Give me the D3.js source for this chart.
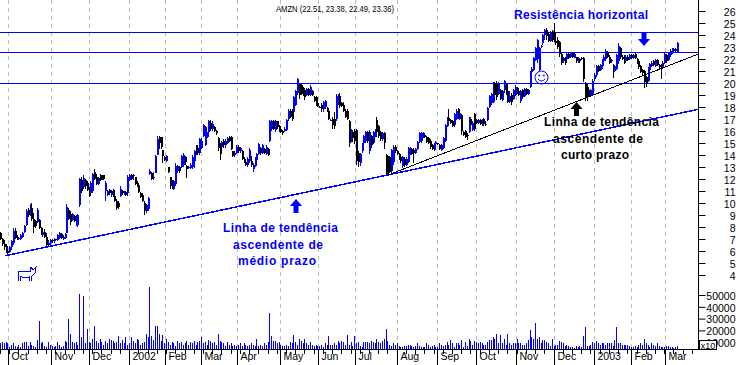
<!DOCTYPE html>
<html>
<head>
<meta charset="utf-8">
<script src="https://cdn.jsdelivr.net/npm/d3@7"></script>
<style>
  html,body{margin:0;padding:0;background:#fff;}
  svg{display:block;font-family:"Liberation Sans",Arial,sans-serif;}
</style>
</head>
<body>
<svg id="chart" width="738" height="365"></svg>
<script>
//--- daily bars, 10 per row
var highs = [
7.6,7.1,6.9,6.6,6.4,6.4,6.9,7.9,7.9,7.3,
7.2,7.4,7.6,8.2,9.5,9.6,9.9,10,9.2,8.6,
9.6,8.7,8,7.7,7.8,7.5,6.9,7,7,7.1,
7,7.4,7.6,7.5,7.3,7.5,9.9,9.6,9.3,9.2,
9,9,9.1,12.1,12.2,12.3,12,11.8,11.3,11.8,
12.5,12.8,12.4,12.2,12.4,12.3,12.3,11.8,11.1,11.2,
11.1,11.2,10.7,10.3,10.2,11.4,11.1,11,11,12.3,
12.4,12.4,12.4,12.2,11.8,11.6,10.9,10.8,10.2,9.9,
10.5,12.8,12.6,12.6,14,15.6,15.6,15.5,14.4,13.9,
14,13,12.2,11.9,11.9,13.3,13.2,13.1,14,14.2,
13.9,13.2,13.1,13.3,14,14.4,14.8,14.8,15.4,15.4,
16.6,16.4,15.9,16.9,16.9,16.8,16.4,16.1,15.5,15,
15.2,15.3,15.3,15.5,15.6,15.6,14.3,14.3,14.8,14.8,
14.7,14.4,13.8,13.6,13.8,14.6,13.9,13.3,13.8,14.2,
15,14.7,14.9,14.6,14.8,14.6,16.9,16.9,16.9,16.9,
16.8,16.5,16.3,16.1,16.3,17,17.8,17.8,17.8,18.9,
19.4,20.4,20,19.9,19.7,19.5,19.6,19.6,19.8,19.4,
18.9,18.9,18.4,18.1,18.3,18.5,18.6,18,17.7,17,
17.2,17.6,19.1,19.1,19.2,18.4,18.4,17.8,17.8,16.9,
16.2,16,16.2,16.2,14.3,14.2,15,15.7,16,16,
16.1,15.7,16,16.2,17.2,16.5,16,15.9,15.9,14.1,
14,13.9,14.5,14.8,14.8,14.4,14.2,13.9,13.9,13.8,
13.8,14.7,14.7,14.6,14.6,14.6,15.2,15.9,15.9,15.9,
15.8,15.6,15.5,15.3,14.9,15,15.2,15,14.9,14.9,
15.5,16.6,17.2,17.8,17,16.9,17.5,17.8,17.9,17.6,
17.4,16,16.1,15.8,17.2,17.2,16.8,17.5,17,17,
17,17,17.1,16.8,18,19,19.2,20.1,20.1,20.2,
20.1,19.5,19.4,20.25,20,19.4,19.3,19.2,19.5,19.8,
19.7,19.4,19.4,19.5,19.6,19.6,19.5,21,21.3,22.2,
23,23.7,23,23.2,24.1,24.5,24.55,24.2,24.3,24.4,
25,23.6,23.8,23.5,22.5,22.2,22.2,22.5,22.5,22.6,
22.6,22.5,22.2,22.2,22.1,22.2,22.2,20.1,19.9,19.4,
19.5,20.3,20.8,21.5,21.5,21.6,22,22.3,22.8,22.7,
22.3,22,21.6,21.5,22.4,23.3,23,22.3,22.3,22.3,
22.3,22.4,22.4,22.4,22.5,22.1,21.9,21.5,21.2,21.1,
20.6,21.3,21.7,21.8,21.9,22,22,21.6,21.6,21.8,
22.5,22.4,22.6,22.8,22.9,22.9,22.9,23.38];

var lows = [
6.9,6.4,6.1,5.8,5.7,5.8,6.1,6.5,7,6.9,
6.9,6.9,7.1,7.5,8.1,8.8,8.9,8.5,7.5,7.9,
8.3,7.8,7.3,7.2,7.1,6.3,6.4,6.5,6.7,6.7,
6.8,6.8,7,7,6.9,7,7.5,8.6,8.2,8.5,
8.4,8.1,8,9.7,10.8,11.2,11.2,11,10.5,10.7,
10.8,11.9,11.5,11.5,11.8,11.9,11.9,10.2,10.6,10.7,
10.5,10.5,10.1,9.4,9.5,10.5,10.7,10.7,10.6,10.6,
11.8,11.9,11.9,11.5,11.3,10.8,10.4,10.1,9,9.2,
9.3,12.3,11.9,11.9,12.5,14,14.5,14.5,13.3,13.5,
13.4,12.5,11.2,11.2,11.1,11.4,12.5,12.5,12.9,13,
13.2,12.1,12.8,12.8,12.8,12.9,14,14,14,14.5,
15.5,14.75,15.4,15.8,16,16,15.9,15.7,14.3,13.6,
14.6,14.6,14.6,14.9,15.1,14.4,13.8,13.8,14.1,14.2,
14.2,13.6,13.3,13.1,13,13.3,13,12.6,13,13.5,
14,14,14.1,14.1,14,13.9,15.1,16,16.1,15.9,
16.2,15.9,15.8,15.7,15.9,16,16.8,17.1,16.8,17.5,
18.1,19,18.7,19,18.9,18.6,18.9,18.9,18.9,18.9,
18.4,18.1,18,17.9,17.6,17.6,17.8,17.6,16.9,16.8,
16.2,16.2,16.8,18.2,17.9,18,17.6,17.1,16.9,14.7,
15.1,15.1,14.9,13.2,13,13.1,14.2,14.9,15,15,
14.1,14.6,14.9,15.5,15.5,15.4,15.2,15.2,14.5,12.3,
12.3,12.5,12.5,13.2,14.2,14,13.6,13.3,12.9,13,
13.1,13.3,14,14,13.3,14.1,14.4,15,15,15.4,
15.4,15,14.9,14.5,14.4,14.3,14.8,14.8,14.4,14.3,
14.5,15.1,16.3,16.6,16.6,16.3,16.3,16.9,17,16.9,
15.7,15.6,15.4,15.25,15.8,16.4,16,16,16.6,16.6,
16.5,16.4,16.4,16.4,16.8,17.9,18.2,18.3,18.8,18.6,
19,18.6,18.5,19.15,19,18.3,18.3,18.2,18.6,18.9,
19.1,18.9,18.3,18.7,18.8,19,19,19.6,20.8,21,
21.8,21.7,21,22.9,23.2,23.6,23.6,23.4,23.4,23.4,
23.4,23.2,22.8,22.2,21.5,21.7,21.5,21.9,22,22.1,
22.1,22.05,21.7,21.7,21.7,21.9,20.1,18.5,18.5,18.9,
18.9,19,20.2,20.5,20.9,21,21.2,21.6,21.8,22.1,
21.6,21.7,20.4,20.9,21.1,21.6,22,21.9,21.6,21.7,
21.8,21.9,22,22,22,21.6,21.2,20.8,20.7,19.6,
19.7,20.1,21,21.3,21.4,21.3,21.4,21.2,20.3,21.2,
21.6,21.7,21.8,22.2,22.4,22.6,22.6,22.49];

var opens = [
7.5,7,6.6,6.3,6,5.9,6.3,6.7,7.7,7.2,
7,7,7.2,7.6,8.2,9.4,9,9.6,8.7,8.5,
8.4,8.6,7.9,7.3,7.6,7.2,6.5,6.7,6.9,6.8,
7,6.9,7.1,7.4,7,7.1,7.5,9.4,9.1,8.6,
8.9,8.3,8.2,9.8,11.9,11.3,11.9,11.7,11.1,10.8,
11,12.6,12.2,11.6,12.3,12.3,12.3,11,10.7,11.1,
10.7,11.1,10.6,10.2,10,10.6,11,10.8,10.9,10.8,
11.9,12.3,12.3,12.2,11.7,11.5,10.8,10.7,10,9.3,
9.5,12.4,12.5,12.1,12.5,14,15.5,15.5,14.4,13.8,
13.5,13,12.2,11.8,11.2,11.6,12.7,13,13,13.2,
13.8,13.1,12.9,12.9,13,13.5,14.7,14.6,14.2,14.6,
15.6,14.8,15.5,15.9,16.7,16.2,16.3,16,15.4,14.7,
14.7,15.2,14.8,15,15.5,15.5,14.3,14,14.2,14.7,
14.3,14.3,13.7,13.4,13.2,13.5,13.5,12.8,13.1,13.6,
14.1,14.6,14.2,14.5,14.1,14.5,15.2,16.2,16.8,16.1,
16.8,16.4,16.2,16,16,16.1,17,17.7,17.7,17.6,
18.2,19.2,19.9,19.8,19.6,19.4,19,19.5,19,19.3,
18.8,18.8,18.3,18,18.2,17.8,18,17.9,17.7,16.9,
17,17,17,18.5,18.9,18.3,18.2,17.7,17.7,16.8,
15.3,15.9,16,16.1,14.2,13.3,14.3,15,15.2,15.9,
14.3,15.6,15,15.6,16.9,16.4,15.9,15.3,15.8,14,
13.9,13.8,12.7,13.4,14.7,14.3,14.1,13.8,13.1,13.7,
13.2,13.4,14.1,14.5,14.4,14.2,14.5,15.1,15.2,15.6,
15.7,15.5,15.4,15.2,14.8,14.4,14.9,15,14.8,14.4,
14.6,15.2,16.4,17.1,16.9,16.8,16.5,17,17.8,17,
17.3,15.9,16,15.7,15.9,17,16.1,17.4,16.9,16.7,
16.9,16.6,17,16.6,16.9,18,18.3,18.4,20,19.9,
19.1,19.4,18.6,19.4,19.9,19.3,18.4,19,18.7,19,
19.6,19.3,18.5,19.4,18.9,19.5,19.1,19.7,20.9,21.1,
21.9,22,21.1,23,23.3,24,24.4,24.1,23.5,24.3,
24.2,23.5,23.6,23.4,22.4,21.8,22.1,22,22.4,22.2,
22.5,22.1,22.2,21.8,22,22.1,22.1,20,19.7,19.3,
19,19.1,20.3,20.7,21.4,21.1,21.4,21.8,22,22.6,
22.2,21.8,21.5,21,21.2,21.8,22.9,22.2,22,21.8,
22.2,22,22.3,22.1,22.4,22,21.8,21.4,21.1,21,
20.5,20.2,21.1,21.4,21.8,21.4,21.9,21.5,21.5,21.3,
21.7,22.3,21.9,22.3,22.5,22.8,22.7,22.51];

var closes = [
7,6.6,6.3,6,5.8,6.3,6.8,7.7,7.1,7,
7.1,7.3,7.5,8.1,9.3,9,9.7,8.7,8,8.1,
9.4,7.9,7.5,7.6,7.2,6.5,6.7,6.9,6.8,7,
6.9,7.3,7.5,7.1,7.2,7.4,9.7,8.7,8.4,9.1,
8.5,8.9,9,12,11,12.1,11.4,11.1,10.6,11.7,
12.4,12,11.6,12.1,11.9,11.9,12,11.7,11,10.8,
11,10.6,10.2,9.6,9.7,11.2,10.8,10.9,10.7,12.2,
12.3,12,12.3,11.6,11.4,10.9,10.5,10.2,9.3,9.8,
10.4,12.7,12,12.2,13.9,15.3,15,14.7,13.9,13.6,
13.9,12.6,11.4,11.3,11.8,13.1,13.1,12.7,13.9,14,
13.4,12.8,13,13.2,13.8,14.3,14.1,14.2,15.3,15.2,
16.5,16.3,15.8,16.8,16.2,16.6,16,15.8,14.6,14.1,
15.1,14.8,15.2,15.4,15.2,14.5,13.9,14.2,14.7,14.3,
14.6,13.7,13.4,13.2,13.7,14.4,13.2,13.2,13.7,14.1,
14.9,14.2,14.8,14.2,14.7,14,16.8,16.8,16.2,16.8,
16.3,16,15.9,15.8,16.2,16.9,17.7,17.2,17,18.8,
19.3,20.3,19,19.1,19,18.8,19.5,19,19.7,19,
18.5,18.3,18.1,17.95,17.8,18.4,18.5,17.7,17,16.9,
16.5,16.4,18.9,19,18.1,18.1,17.7,17.2,17,15,
16.1,15.4,15.2,13.5,13.4,14.1,14.9,15.6,15.9,15.2,
15.9,14.8,15.9,16.1,15.9,15.6,15.3,15.8,15,12.4,
12.4,12.6,14.4,14.7,14.3,14.1,13.8,13.5,13.8,13.2,
13.7,14.6,14.6,14.1,14.2,14.5,15.1,15.8,15.8,15.8,
15.5,15.1,15,14.7,14.5,14.9,15.1,14.9,14.5,14.8,
15.4,16.5,17.1,16.8,16.7,16.4,17.4,17.7,17.1,17.5,
16,15.7,15.5,15.6,17.1,16.5,16.7,16.2,16.7,16.9,
16.6,16.9,16.6,16.5,17.9,18.9,19.1,19.9,19,18.8,
19.9,18.7,19.3,20.2,19.2,18.4,18.9,18.4,19.4,19.7,
19.2,19,19.3,18.8,19.5,19.1,19.4,20.9,21.2,22.1,
22.9,23.6,22.9,23.1,24,24.4,23.9,23.5,24.2,23.6,
23.5,23.3,23,22.4,21.7,22.1,21.7,22.4,22.1,22.5,
22.2,22.4,21.8,22.1,21.8,22,20.3,18.8,18.9,19,
19.4,20.2,20.7,21.4,21,21.5,21.9,22.2,22.7,22.2,
21.7,21.9,21,21.4,22.3,23.1,22.2,22,21.7,22.2,
21.9,22.3,22.1,22.3,22.1,21.7,21.3,20.9,20.8,20.1,
20,21.2,21.6,21.7,21.5,21.9,21.5,21.3,21.3,21.7,
22.4,21.8,22.5,22.7,22.8,22.7,22.8,23.36];

//--- volume, in the axis unit (thousands on the labels)
var volumes = [
9,10,9,10,9,6,8,9,7,6,
8,6,9,10,10,7,10,8,7,6,
12,28,9,10,7,6,10,8,7,6,
7,10,8,6,7,11,10,30,17,10,
9,10,8,51,14,49,9,21,10,9,
13,24,11,9,13,10,8,11,9,13,
12,11,9,10,15,9,12,9,14,8,
9,14,11,9,13,12,8,9,10,17,
14,57,15,12,24,24,17,11,16,9,
13,10,8,10,9,7,11,9,10,8,
9,11,8,10,9,11,8,10,11,14,
9,10,8,12,11,9,10,8,17,11,
10,9,7,10,8,9,7,8,7,8,
9,7,9,8,7,8,9,8,7,13,
7,8,7,9,8,10,35,15,11,11,
9,10,8,7,7,8,7,10,9,16,
10,8,13,11,9,13,9,8,10,8,
7,8,7,7,8,6,9,8,15,8,
8,9,8,11,9,11,10,8,16,8,
10,7,15,9,10,7,6,10,10,10,
9,11,10,9,13,10,9,11,13,21,
11,8,7,9,8,9,7,6,6,7,
7,8,8,7,6,7,9,7,6,6,
6,9,8,6,7,8,6,6,9,8,
7,8,10,8,12,9,6,9,9,8,
12,6,10,7,13,11,8,11,10,9,
10,9,8,8,10,12,12,14,13,17,
9,16,9,13,8,17,9,8,9,9,
13,9,9,8,8,9,12,20,14,13,
26,13,14,9,12,12,10,9,7,13,
7,8,8,11,10,9,7,8,7,6,
6,5,7,6,7,6,15,23,7,7,
8,10,9,11,9,8,9,9,8,9,
9,9,7,12,23,9,9,8,8,8,
8,7,6,6,7,6,8,9,8,13,
9,8,6,9,8,7,9,7,6,6,
6,7,7,6,6,5,6,7];

var monthLabels = ["Oct","Nov","Dec","2002","Feb","Mar","Apr","May","Jun","Jul","Aug","Sep","Oct","Nov","Dec","2003","Feb","Mar"];
//--- where each month starts, in bar numbers
var monthStarts = [4.6,27.4,48.4,69.8,89.4,108.9,128.5,151.9,172.3,192.4,214.9,236.7,257.9,279.6,300.3,322,342.1,360.6];

var priceTicks = [4,5,6,7,8,9,10,11,12,13,14,15,16,17,18,19,20,21,22,23,24,25,26];
var volumeTicks = [10000,20000,30000,40000,50000];

var resistances = [24.25,22.6,20];
//--- trend lines as [bar, price]
var trendLong = [[2.7,5.6],[378.3,17.8]];
var trendShort = [[209.8,12.3],[378.3,22.4]];

var blue = "#0000ff", axisBase = 349, axisRight = 698;

var svg = d3.select("#chart");
var x = d3.scaleLinear().domain([0,378.3]).range([0,axisRight]);
var yPrice = d3.scaleLinear().domain([26,4]).range([11,275]);
var yVol = d3.scaleLinear().domain([0,50000]).range([354,295]);

function px(i){ return Math.round(x(i)); }

//--- month grid
svg.append("g").selectAll("line").data(monthStarts).enter().append("line")
  .attr("x1",function(d){return px(d)+0.5}).attr("x2",function(d){return px(d)+0.5})
  .attr("y1",0).attr("y2",axisBase)
  .attr("stroke","#bdbdbd").attr("stroke-dasharray","4,4");

//--- volume bars, clipped by the time axis
svg.append("g").selectAll("rect").data(volumes).enter().append("rect")
  .attr("x",function(d,i){return px(i)}).attr("width",1)
  .attr("y",function(d){return yVol(d*1000)})
  .attr("height",function(d){return Math.max(0,axisBase-yVol(d*1000))})
  .attr("fill",blue).attr("shape-rendering","crispEdges");

//--- resistance lines
svg.append("g").selectAll("line").data(resistances).enter().append("line")
  .attr("x1",0).attr("x2",axisRight)
  .attr("y1",function(d){return Math.round(yPrice(d))+0.5}).attr("y2",function(d){return Math.round(yPrice(d))+0.5})
  .attr("stroke",blue);

//--- bars
var bars = svg.append("g").attr("shape-rendering","crispEdges");
var barColor = function(i){ return closes[i]>=opens[i] ? blue : "#000"; };
bars.selectAll("line").data(highs).enter().append("line")
  .attr("x1",function(d,i){return px(i)+0.5}).attr("x2",function(d,i){return px(i)+0.5})
  .attr("y1",function(d){return yPrice(d)})
  .attr("y2",function(d,i){return yPrice(lows[i])})
  .attr("stroke",function(d,i){return barColor(i)});
bars.selectAll("rect").data(opens).enter().append("rect")
  .attr("x",function(d,i){return px(i)}).attr("width",2)
  .attr("y",function(d,i){return yPrice(Math.max(d,closes[i]))})
  .attr("height",function(d,i){return Math.max(1,Math.abs(yPrice(d)-yPrice(closes[i])))})
  .attr("fill",function(d,i){return barColor(i)});

//--- trend lines
var lineGen = d3.line().x(function(d){return x(d[0])}).y(function(d){return yPrice(d[1])});
svg.append("path").attr("d",lineGen(trendLong)).attr("fill","none").attr("stroke",blue).attr("stroke-width",1.5).attr("shape-rendering","crispEdges");
svg.append("path").attr("d",lineGen(trendShort)).attr("fill","none").attr("stroke","#000").attr("shape-rendering","crispEdges");

//--- time axis, labels sit right of the long month ticks
var timeAxis = d3.axisBottom(x).tickValues(monthStarts).tickSize(16)
  .tickFormat(function(d,i){return monthLabels[i]});
var gTime = svg.append("g").attr("transform","translate(0,"+axisBase+".5)").call(timeAxis);
gTime.select(".domain").remove();
gTime.selectAll(".tick").attr("transform",function(d){return "translate("+(px(d)+0.5)+",0)"});
gTime.selectAll("text").attr("text-anchor","start").attr("x",3).attr("y",10).attr("dy",0).attr("dominant-baseline","auto")
  .style("font-size","10.5px").style("font-family","'Liberation Sans',Arial,sans-serif").attr("fill","#000");
gTime.selectAll("line").attr("stroke","#000");
svg.append("line").attr("x1",0).attr("x2",axisRight).attr("y1",axisBase+0.5).attr("y2",axisBase+0.5).attr("stroke","#000");
svg.append("g").selectAll("line").data(d3.range(0,378,5)).enter().append("line")
  .attr("x1",function(d){return px(d)+0.5}).attr("x2",function(d){return px(d)+0.5})
  .attr("y1",axisBase).attr("y2",axisBase+5).attr("stroke","#000");

//--- right hand axes
var priceAxis = d3.axisRight(yPrice).tickValues(priceTicks).tickSize(7).tickFormat(d3.format("d"));
var gPrice = svg.append("g").attr("transform","translate("+axisRight+".5,0)").call(priceAxis);
gPrice.select(".domain").remove();
var volAxis = d3.axisRight(yVol).tickValues(volumeTicks).tickSize(7).tickFormat(d3.format("d"));
var gVol = svg.append("g").attr("transform","translate("+axisRight+".5,0)").call(volAxis);
gVol.select(".domain").remove();
[gPrice,gVol].forEach(function(g){
  g.selectAll("line").attr("stroke","#000");
  g.selectAll("text").attr("text-anchor","end").attr("x",37).attr("y",1).attr("fill","#000")
    .style("font-size","10.5px").style("font-family","'Liberation Sans',Arial,sans-serif");
});
svg.append("line").attr("x1",axisRight+0.5).attr("x2",axisRight+0.5).attr("y1",0).attr("y2",axisBase+1).attr("stroke","#000");

//--- the x10 box sits on top of the 10000 label
svg.append("rect").attr("x",699.5).attr("y",340.5).attr("width",17).attr("height",9).attr("fill","#fff").attr("stroke","#000");
svg.append("text").attr("x",708).attr("y",348.5).attr("text-anchor","middle").attr("font-size",9).text("x10");

//--- title
svg.append("text").attr("x",276).attr("y",12).attr("font-size",9.5).attr("fill","#000")
  .attr("textLength",118).attr("lengthAdjust","spacingAndGlyphs")
  .text("AMZN (22.51, 23.38, 22.49, 23.36)");

//--- notes
function note(txt,x0,x1,y,color){
  svg.append("text").attr("x",x0).attr("y",y).attr("fill",color)
    .attr("font-size",12).attr("font-weight","bold")
    .attr("textLength",x1-x0).attr("lengthAdjust","spacing").text(txt);
}
note("Resistência horizontal",514,648,19,blue);
note("Linha de tendência",223,338,232,blue);
note("ascendente de",233,323,249,blue);
note("médio prazo",238,316,265,blue);
note("Linha de tendência",544,659,126,"#000");
note("ascendente de",553,643,143,"#000");
note("curto prazo",561,629,159,"#000");

//--- arrows, tip first
function arrow(cx,tip,dir,color){
  var h = 14*dir;
  svg.append("path").attr("fill",color).attr("d",
    "M"+cx+","+tip+"L"+(cx+6)+","+(tip+h*0.5)+"L"+(cx+2.5)+","+(tip+h*0.5)+"L"+(cx+2.5)+","+(tip+h)+
    "L"+(cx-2.5)+","+(tip+h)+"L"+(cx-2.5)+","+(tip+h*0.5)+"L"+(cx-6)+","+(tip+h*0.5)+"Z");
}
arrow(296,199,1,blue);
arrow(576.5,102,1,"#000");
arrow(644,46,-1,blue);

//--- smiley
var smile = svg.append("g").attr("transform","translate(541.5,77.5)").attr("fill","none").attr("stroke",blue);
smile.append("circle").attr("r",6.5);
smile.append("path").attr("d","M-3.5,1.5Q0,5.5 3.5,1.5");
smile.append("circle").attr("cx",-2.3).attr("cy",-2).attr("r",0.6);
smile.append("circle").attr("cx",2.3).attr("cy",-2).attr("r",0.6);

//--- bull icon
svg.append("path").attr("fill","none").attr("stroke",blue).attr("stroke-width",1).attr("shape-rendering","crispEdges")
  .attr("d","M18,281L18,271L30,272L31,267L33,270L36,267L35,273L32,276L31,281M20,281L20,276L24,278L29,277L29,281");
</script>
</body>
</html>
